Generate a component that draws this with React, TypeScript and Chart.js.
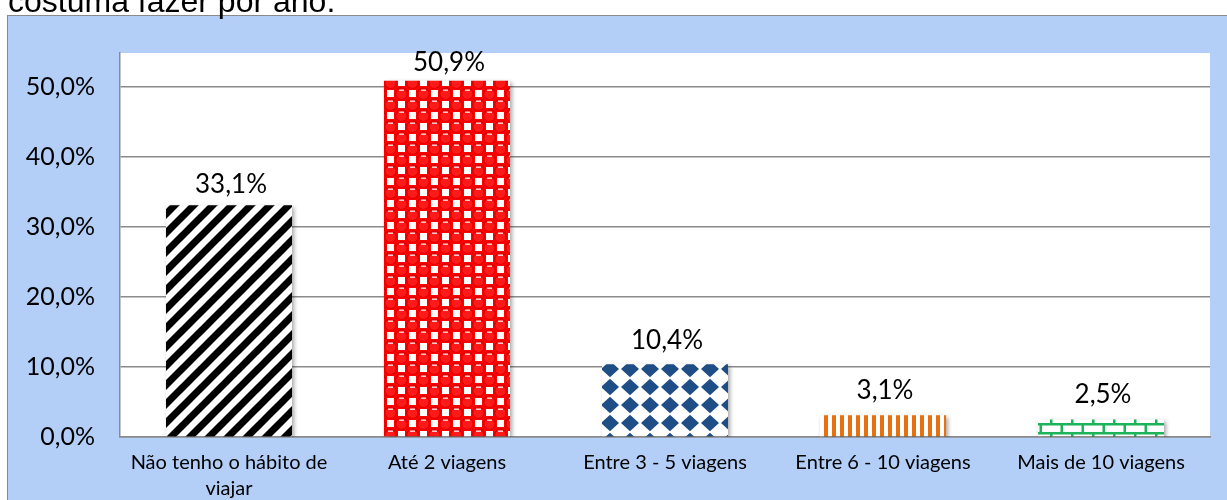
import React, { useEffect, useRef } from 'react';
import { Chart, registerables } from 'chart.js';

Chart.register(...registerables);

const titleText = 'costuma fazer por ano.';
const categories: (string | string[])[] = [
  ['Não tenho o hábito de', 'viajar'],
  'Até 2 viagens',
  'Entre 3 - 5 viagens',
  'Entre 6 - 10 viagens',
  'Mais de 10 viagens',
];
const values = [33.1, 50.9, 10.4, 3.1, 2.5];
const yTickValues = [0, 10, 20, 30, 40, 50];

const FONT = 'Lato';

function fmt(v: number) {
  return v.toFixed(1).replace('.', ',') + '%';
}

function tile(w: number, h: number, draw: (c: CanvasRenderingContext2D) => void) {
  const cv = document.createElement('canvas');
  cv.width = w;
  cv.height = h;
  const c = cv.getContext('2d')!;
  draw(c);
  return cv;
}

function makePatterns(ctx: CanvasRenderingContext2D) {
  // black diagonal stripes
  const stripes = tile(19, 19, (c) => {
    c.fillStyle = '#fff';
    c.fillRect(0, 0, 19, 19);
    c.strokeStyle = '#000';
    c.lineWidth = 7;
    for (let k = -1; k <= 1; k++) {
      c.beginPath();
      c.moveTo(k * 19 - 19, 38);
      c.lineTo(k * 19 + 38, -19);
      c.stroke();
    }
  });
  // red balls / white squares
  const red = tile(22, 22, (c) => {
    c.fillStyle = '#ff0000';
    c.fillRect(0, 0, 22, 22);
    const sq = (x: number, y: number) => {
      c.fillStyle = '#ffffff';
      c.fillRect(x - 3.5, y - 3.5, 7, 7);
    };
    sq(16.5, 5.5);
    sq(5.5, 16.5);
    const ball = (x: number, y: number) => {
      c.fillStyle = '#e00000';
      c.beginPath();
      c.arc(x, y, 6.5, 0, Math.PI * 2);
      c.fill();
      c.fillStyle = '#ff1a1a';
      c.beginPath();
      c.arc(x, y + 0.5, 5, 0, Math.PI * 2);
      c.fill();
      c.fillStyle = '#ffc8c8';
      c.fillRect(x - 2.5, y - 4, 5, 1.5);
    };
    ball(5.5, 5.5);
    ball(16.5, 16.5);
    ball(27.5, 5.5);
    ball(-5.5, 16.5);
    ball(5.5, 27.5);
    ball(16.5, -5.5);
  });
  // blue diamonds
  const blue = tile(20, 18, (c) => {
    c.fillStyle = '#fff';
    c.fillRect(0, 0, 20, 18);
    c.fillStyle = '#1f4e87';
    c.beginPath();
    c.moveTo(10, 0.8);
    c.lineTo(19, 9);
    c.lineTo(10, 17.2);
    c.lineTo(1, 9);
    c.closePath();
    c.fill();
  });
  // orange vertical stripes
  const orange = tile(8, 8, (c) => {
    c.fillStyle = '#fff';
    c.fillRect(0, 0, 8, 8);
    c.fillStyle = '#e8700f';
    c.fillRect(0, 0, 4, 8);
  });
  // green bricks
  const green = tile(21, 18, (c) => {
    c.fillStyle = '#fff';
    c.fillRect(0, 0, 21, 18);
    c.fillStyle = '#1db35a';
    c.fillRect(0, 0, 21, 2.5);
    c.fillRect(0, 9, 21, 2.5);
    c.fillRect(0, 0, 2.5, 9);
    c.fillRect(10.5, 9, 2.5, 9);
  });
  return [stripes, red, blue, orange, green].map((t) => ctx.createPattern(t, 'repeat')!);
}

const framePlugin = {
  id: 'frame',
  beforeDraw(chart: any) {
    const { ctx, chartArea, width, height } = chart;
    ctx.save();
    ctx.fillStyle = '#ffffff';
    ctx.fillRect(0, 0, width, height);
    ctx.fillStyle = 'rgb(179,206,247)';
    ctx.fillRect(8, 16, width, height);
    ctx.strokeStyle = '#8a8a8a';
    ctx.lineWidth = 1;
    ctx.strokeRect(7.5, 15.5, width + 20, height + 20);
    ctx.fillStyle = '#ffffff';
    ctx.fillRect(chartArea.left, chartArea.top, chartArea.right - chartArea.left, chartArea.bottom - chartArea.top);
    ctx.fillStyle = '#000';
    ctx.font = '32px "Liberation Sans", Arial, sans-serif';
    ctx.textBaseline = 'alphabetic';
    ctx.textAlign = 'left';
    ctx.fillText(titleText, 8, 12);
    ctx.restore();
  },
};

const shadowPlugin = {
  id: 'barShadow',
  beforeDatasetsDraw(chart: any) {
    const ctx = chart.ctx;
    ctx.save();
    ctx.shadowColor = 'rgba(0,0,0,0.35)';
    ctx.shadowBlur = 4;
    ctx.shadowOffsetX = 2;
    ctx.shadowOffsetY = 2;
  },
  afterDatasetsDraw(chart: any) {
    chart.ctx.restore();
  },
};

const labelPlugin = {
  id: 'valueLabels',
  afterDraw(chart: any) {
    const { ctx } = chart;
    const meta = chart.getDatasetMeta(0);
    ctx.save();
    ctx.fillStyle = '#000';
    ctx.font = `26px ${FONT}`;
    ctx.textAlign = 'center';
    ctx.textBaseline = 'alphabetic';
    meta.data.forEach((bar: any, i: number) => {
      const v = values[i];
      const gap = 16.8 - 0.14 * v;
      ctx.fillText(fmt(v), bar.x + 2, bar.y - gap);
    });
    ctx.restore();
  },
};

export default function App() {
  const ref = useRef<HTMLCanvasElement>(null);
  useEffect(() => {
    let chart: Chart | null = null;
    let cancelled = false;
    const build = () => {
      if (cancelled || !ref.current) return;
      const ctx = ref.current.getContext('2d')!;
      const patterns = makePatterns(ctx);
      chart = new Chart(ref.current, {
        type: 'bar',
        data: {
          labels: categories,
          datasets: [
            {
              data: values,
              backgroundColor: patterns as any,
              borderWidth: 0,
              barPercentage: 1,
              categoryPercentage: 0.578,
            },
          ],
        },
        options: {
          animation: false,
          responsive: false,
          maintainAspectRatio: false,
          devicePixelRatio: 1,
          layout: { padding: { left: 8, top: 53, right: 17, bottom: 0 } },
          plugins: {
            legend: { display: false },
            tooltip: { enabled: false },
            title: { display: false },
          },
          scales: {
            x: {
              grid: { display: false, drawTicks: false },
              border: { display: true, color: '#8a8a8a', width: 1.5 },
              ticks: {
                color: '#000',
                font: { family: FONT, size: 20, lineHeight: 1.3 },
                padding: 13,
                maxRotation: 0,
                minRotation: 0,
                autoSkip: false,
              },
              afterFit(scale: any) {
                scale.height = 63;
              },
            },
            y: {
              min: 0,
              max: 54.86,
              grid: { color: '#8a8a8a', lineWidth: 1.5, drawTicks: false },
              border: { display: true, color: '#8a8a8a', width: 1.5 },
              ticks: {
                stepSize: 10,
                color: '#000',
                font: { family: FONT, size: 25 },
                padding: 25,
                callback: (v: any) => fmt(Number(v)),
              },
              afterBuildTicks(scale: any) {
                scale.ticks = yTickValues.map((v) => ({ value: v }));
              },
              afterFit(scale: any) {
                scale.width = 112;
              },
            },
          },
        },
        plugins: [framePlugin, shadowPlugin, labelPlugin],
      });
    };
    const fontsApi = (document as any).fonts;
    if (fontsApi && fontsApi.load) {
      Promise.all([
        fontsApi.load(`24px ${FONT}`),
        fontsApi.load('32px "Liberation Sans"'),
      ])
        .catch(() => null)
        .then(build);
    } else {
      build();
    }
    return () => {
      cancelled = true;
      if (chart) chart.destroy();
    };
  }, []);
  return (
    <div style={{ position: 'absolute', left: 0, top: 0, width: 1227, height: 500, overflow: 'hidden' }}>
      <canvas ref={ref} width={1227} height={500} style={{ display: 'block', width: 1227, height: 500 }} />
    </div>
  );
}
